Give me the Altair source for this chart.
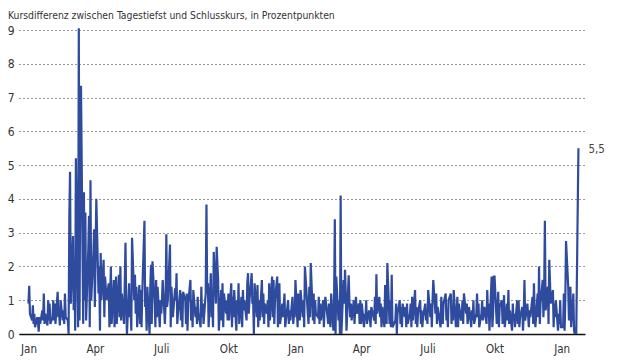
import altair as alt
import pandas as pd
import numpy as np

TITLE = "Kursdifferenz zwischen Tagestiefst und Schlusskurs, in Prozentpunkten"
MONTH_NAMES = ["Jan", "Feb", "März", "Apr", "Mai", "Juni", "Juli", "Aug", "Sep", "Okt", "Nov", "Dez"]
Y_TICKS = [0, 1, 2, 3, 4, 5, 6, 7, 8, 9]

# daily values per month (percentage points)
m2020_01 = [0.9, 1.43, 0.6, 0.4, 0.85, 0.3, 0.6, 0.2, 0.5, 0.35, 0.07, 0.5, 0.3, 0.7, 0.4, 1.2, 0.3, 0.6, 0.25, 1.0, 0.4, 0.9, 0.3]
m2020_02 = [0.5, 1.0, 0.4, 0.9, 0.3, 1.25, 0.5, 0.6, 0.25, 1.0, 0.4, 0.7, 0.3, 1.2, 0.5, 0.4, 0.0, 3.5, 4.8, 0.9]
m2020_03 = [2.9, 0.7, 2.2, 0.1, 5.2, 0.2, 9.05, 0.4, 5.0, 7.35, 0.3, 4.2, 1.0, 3.6, 0.4, 2.5, 3.5, 0.2, 4.55, 1.0, 2.4, 3.1]
m2020_04 = [0.8, 2.4, 4.0, 1.2, 2.0, 0.1, 2.4, 1.0, 2.2, 0.5, 1.7, 1.0, 1.5, 0.2, 1.2, 2.0, 0.3, 1.6, 0.2, 1.0, 1.7]
m2020_05 = [0.3, 1.75, 0.5, 2.0, 0.4, 1.2, 0.3, 1.5, 2.7, 0.9, 0.0, 1.5, 0.5, 0.8, 0.1, 2.85, 1.0, 1.75, 0.6, 1.4, 0.2]
m2020_06 = [1.45, 0.3, 1.3, 0.2, 1.2, 3.35, 0.8, 1.0, 0.1, 1.4, 0.0, 1.4, 2.05, 0.3, 2.15, 0.9, 0.2, 1.6, 0.5, 1.4, 0.2, 1.0]
m2020_07 = [0.6, 1.0, 1.6, 0.3, 0.9, 2.95, 0.8, 1.0, 2.65, 0.2, 1.4, 0.5, 1.35, 1.0, 1.8, 0.3, 0.6, 1.3, 0.4, 1.2, 0.2, 1.25]
m2020_08 = [1.0, 0.3, 1.2, 0.1, 0.9, 1.6, 0.4, 1.0, 0.2, 1.3, 0.5, 0.8, 0.3, 1.1, 0.6, 0.2, 1.4, 0.5, 0.9, 0.3, 1.2]
m2020_09 = [3.83, 1.2, 1.5, 0.2, 1.8, 0.5, 1.0, 0.2, 2.43, 0.9, 2.58, 1.6, 0.1, 1.3, 0.4, 1.5, 0.2, 1.2, 0.6, 1.0, 0.4]
m2020_10 = [1.2, 0.4, 1.5, 0.2, 1.1, 0.5, 1.3, 0.1, 1.0, 0.6, 1.5, 0.3, 1.1, 0.2, 1.3, 0.7, 1.0, 0.4, 1.5, 1.8, 0.6, 1.0]
m2020_11 = [1.8, 0.9, 1.0, 0.0, 1.5, 0.5, 1.45, 0.2, 1.0, 0.4, 1.6, 0.5, 1.2, 0.3, 0.9, 0.6, 1.0, 0.2, 1.5, 0.4, 1.7]
m2020_12 = [0.5, 1.6, 0.3, 1.0, 1.7, 0.2, 0.6, 1.5, 0.3, 0.9, 0.5, 1.2, 0.2, 0.8, 1.0, 0.3, 0.7, 0.4, 1.1, 0.3, 0.6, 0.5]
m2021_01 = [1.6, 0.2, 1.2, 0.8, 0.4, 1.3, 0.5, 1.0, 0.2, 2.0, 0.6, 0.3, 1.4, 0.5, 2.1, 0.4, 1.2, 0.3, 1.0, 0.6]
m2021_02 = [0.5, 1.1, 0.3, 0.9, 0.4, 1.0, 0.2, 0.8, 1.1, 0.3, 0.9, 0.5, 0.2, 1.2, 0.1, 1.0, 3.4, 0.0, 1.7]
m2021_03 = [0.4, 1.0, 0.0, 4.1, 0.0, 1.6, 0.9, 1.9, 1.2, 0.1, 1.74, 1.0, 0.5, 0.9, 0.4, 1.0, 0.3, 0.8, 1.1, 0.6, 0.9, 0.3, 1.0]
m2021_04 = [0.3, 0.9, 0.2, 0.6, 0.4, 1.0, 0.3, 0.7, 0.5, 0.2, 0.8, 0.4, 1.1, 0.3, 1.77, 0.6, 1.1, 0.5, 0.9, 0.2, 0.8]
m2021_05 = [0.2, 1.45, 0.5, 0.3, 2.1, 0.3, 1.0, 0.2, 1.75, 0.2, 0.4, 0.9, 0.0, 0.6, 1.0, 0.3, 0.8, 0.2, 0.9, 0.5]
m2021_06 = [0.8, 0.2, 0.9, 0.3, 0.6, 0.9, 0.2, 1.1, 0.4, 1.3, 0.3, 0.8, 0.2, 0.6, 1.0, 0.3, 0.7, 0.2, 0.5, 0.9, 0.4, 0.6]
m2021_07 = [0.3, 1.3, 0.5, 0.9, 0.2, 1.0, 1.6, 0.6, 1.2, 0.3, 0.8, 0.2, 1.1, 0.5, 0.3, 0.9, 1.2, 0.4, 0.7, 0.2, 1.0]
m2021_08 = [1.2, 0.3, 0.8, 0.4, 1.3, 0.2, 0.6, 1.1, 0.2, 0.9, 0.4, 0.5, 1.0, 0.3, 1.2, 0.6, 0.9, 0.3, 0.5, 0.8, 0.2, 0.7]
m2021_09 = [0.4, 1.0, 0.3, 0.6, 1.2, 0.5, 0.9, 0.2, 0.6, 1.0, 0.4, 0.8, 0.3, 1.3, 0.5, 0.9, 0.1, 1.7, 0.2, 0.6, 1.7]
m2021_10 = [1.7, 0.3, 0.6, 1.25, 0.2, 0.8, 1.0, 0.3, 0.6, 1.15, 0.2, 0.9, 0.4, 1.3, 0.3, 0.7, 0.1, 0.9, 0.4, 0.6, 0.2]
m2021_11 = [1.0, 0.3, 1.0, 0.2, 0.5, 0.8, 0.1, 0.6, 1.6, 0.4, 0.9, 0.2, 0.7, 0.5, 1.1, 0.3, 1.5, 0.6, 0.2, 1.2, 0.5]
m2021_12 = [2.0, 0.3, 0.9, 1.6, 0.5, 1.2, 3.35, 0.7, 1.4, 0.3, 2.2, 0.9, 1.3, 0.2, 0.9, 0.5, 1.0, 0.1, 0.6, 0.3, 1.0, 0.2]
m2022_01 = [0.2, 1.2, 0.1, 1.0, 2.75, 1.4, 0.4, 1.4, 0.2, 1.2, 0.1, 0.0, 0.2, 0.0, 5.5]

series = [
    ("2020-01", m2020_01), ("2020-02", m2020_02), ("2020-03", m2020_03), ("2020-04", m2020_04),
    ("2020-05", m2020_05), ("2020-06", m2020_06), ("2020-07", m2020_07), ("2020-08", m2020_08),
    ("2020-09", m2020_09), ("2020-10", m2020_10), ("2020-11", m2020_11), ("2020-12", m2020_12),
    ("2021-01", m2021_01), ("2021-02", m2021_02), ("2021-03", m2021_03), ("2021-04", m2021_04),
    ("2021-05", m2021_05), ("2021-06", m2021_06), ("2021-07", m2021_07), ("2021-08", m2021_08),
    ("2021-09", m2021_09), ("2021-10", m2021_10), ("2021-11", m2021_11), ("2021-12", m2021_12),
    ("2022-01", m2022_01),
]
LAST_DAY = "2022-01-24"

rows = []
for month, vals in series:
    start = pd.Timestamp(month + "-01")
    end = min(start + pd.offsets.MonthEnd(0), pd.Timestamp(LAST_DAY))
    bdays = pd.bdate_range(start, end)
    idx = np.linspace(0, len(bdays) - 1, len(vals)).round().astype(int)
    for i, v in zip(idx, vals):
        rows.append({"date": bdays[i].strftime("%Y-%m-%d"), "value": v})
df = pd.DataFrame(rows)
last = df.iloc[[-1]].copy()
last["label"] = last["value"].map(lambda v: f"{v:.1f}".replace(".", ","))

FONT = "DejaVu Sans Condensed, Roboto Condensed, Roboto, sans-serif"
tick_dates = [alt.DateTime(year=y, month=m, date=1) for y, m in
              [(2020, 1), (2020, 4), (2020, 7), (2020, 10), (2021, 1), (2021, 4), (2021, 7), (2021, 10), (2022, 1)]]
month_expr = "[" + ",".join(f"'{n}'" for n in MONTH_NAMES) + "][month(datum.value)]"

x_enc = alt.X("date:T", title=None,
              scale=alt.Scale(domain=[alt.DateTime(year=2019, month=12, date=19),
                                      alt.DateTime(year=2022, month=2, date=2)]),
              axis=alt.Axis(values=tick_dates, labelExpr=month_expr, grid=False, ticks=False,
                            domain=True, domainColor="#111", domainWidth=1.5, labelPadding=9,
                            labelFont=FONT, labelFontSize=11.5, labelColor="#333"))
y_enc = alt.Y("value:Q", title=None, scale=alt.Scale(domain=[0, 9]),
              axis=alt.Axis(values=Y_TICKS, tickCount=10, labelOverlap=False, grid=True,
                            gridDash=[1, 3], gridColor="#333", gridWidth=1, domain=False,
                            ticks=False, labelPadding=5,
                            labelFont=FONT, labelFontSize=12, labelColor="#333"))

line = alt.Chart(df).mark_line(color="#2f4b9e", strokeWidth=2.2, strokeJoin="miter").encode(
    x=x_enc, y=y_enc)

label = alt.Chart(last).mark_text(align="left", baseline="middle", dx=10, dy=2,
                                  font=FONT, fontSize=11.5, color="#444").encode(
    x=x_enc, y=y_enc, text="label:N")

chart = alt.layer(line, label).properties(
    width=566, height=304,
    autosize=alt.AutoSizeParams(type="none"),
    padding={"left": 11, "top": 22, "right": 47, "bottom": 30},
    title=alt.TitleParams(TITLE, anchor="start", frame="group", dx=-11, offset=3,
                          font=FONT, fontSize=10.3, fontWeight="normal", color="#333"),
).configure_view(stroke=None)

chart.save("out.html", embed_options={"renderer": "svg", "actions": False})
